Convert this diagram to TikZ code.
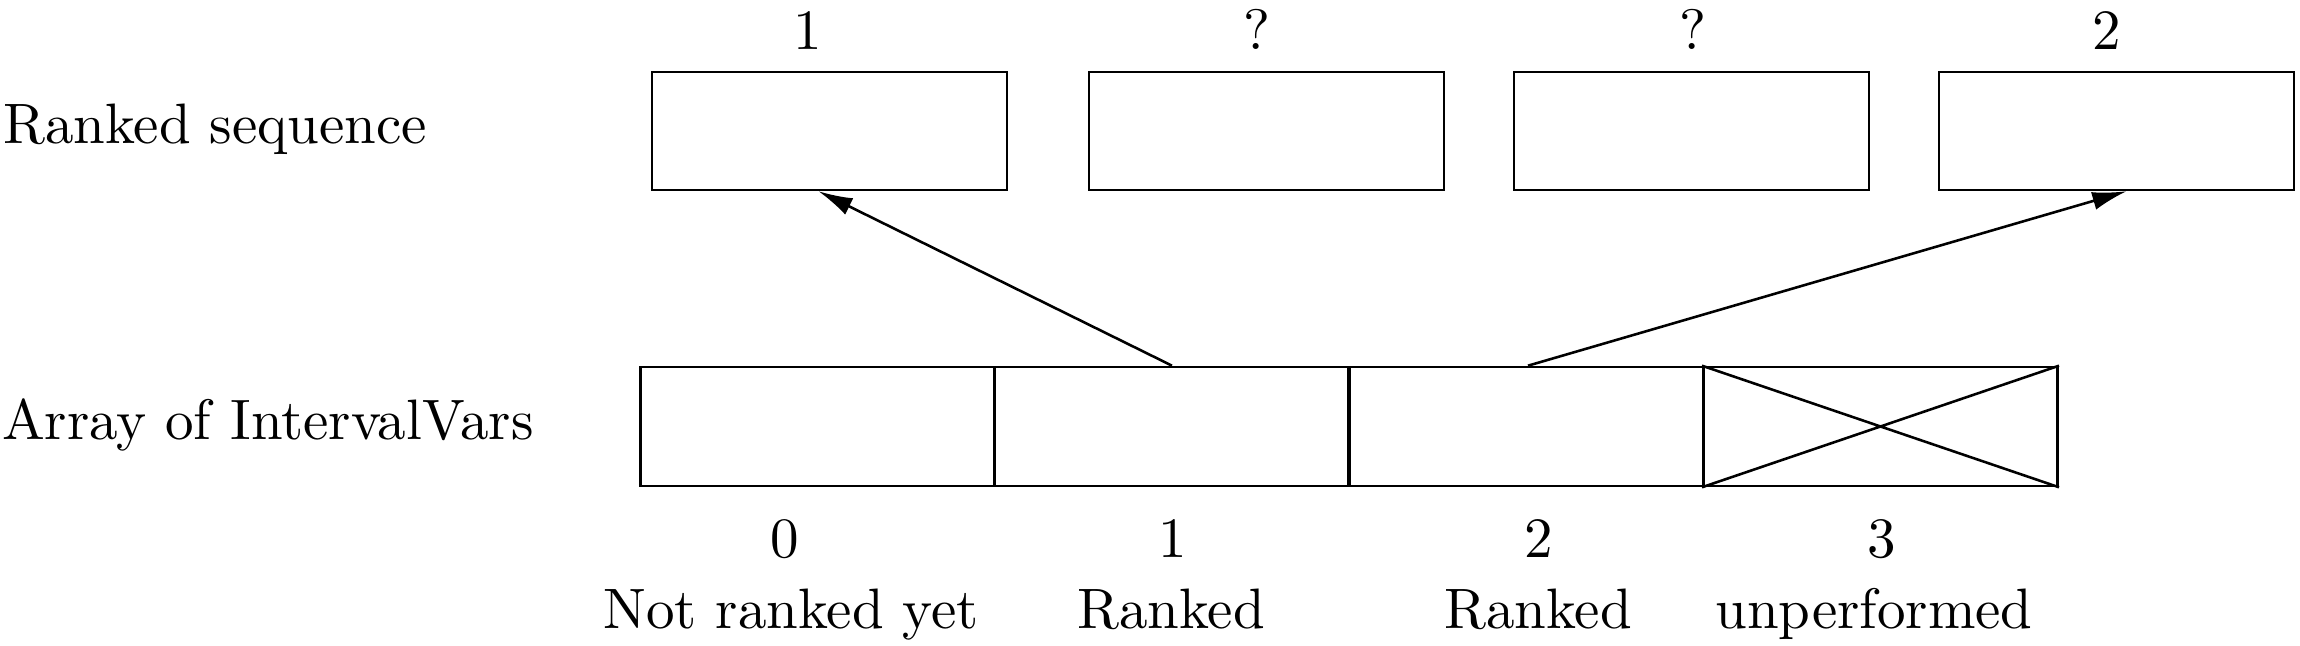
\documentclass[tikz,border=0pt]{standalone}
\usetikzlibrary{arrows.meta,calc}
\begin{document}
\begin{tikzpicture}[x=0.17544pt,y=-0.17544pt,
  topbox/.style={draw,line width=0.45pt,rectangle,inner sep=0pt,minimum width=62.28pt,minimum height=20.7pt},
  arrbox/.style={draw,line width=0.45pt,rectangle,inner sep=0pt,minimum width=62.2pt,minimum height=20.88pt},
  lbl/.style={inner sep=0pt,anchor=base},
  side/.style={inner sep=0pt,anchor=base west},
  conn/.style={line width=0.45pt,-{Latex[length=6pt,width=3.2pt]}}]
\useasboundingbox (0,0) rectangle (2300,646);
% top row
\node[topbox] (t0) at (829.5,131) {};
\node[topbox] (t1) at (1266.5,131) {};
\node[topbox] (t2) at (1691.5,131) {};
\node[topbox] (t3) at (2116.5,131) {};
\node[lbl] (l0) at (808,50) {1};
\node[lbl] (l1) at (1257,50) {?};
\node[lbl] (l2) at (1693,50) {?};
\node[lbl] (l3) at (2107,50) {2};
% bottom row
\node[arrbox] (b0) at (817.5,426.5) {};
\node[arrbox] (b1) at (1172,426.5) {};
\node[arrbox] (b2) at (1526,426.5) {};
\node[arrbox] (b3) at (1880.5,426.5) {};
\draw[line width=0.45pt] (b3.north west) -- (b3.south east) (b3.south west) -- (b3.north east);
% side labels
\node[side] (rs) at (2,144) {Ranked sequence};
\node[side] (ai) at (1,440) {Array of IntervalVars};
% bottom labels
\node[lbl] (n0) at (785,558) {0};
\node[lbl] (n1) at (1173,558) {1};
\node[lbl] (n2) at (1539,558) {2};
\node[lbl] (n3) at (1882,558) {3};
\node[lbl] (s0) at (791,629) {Not ranked yet};
\node[lbl] (s1) at (1171,629) {Ranked};
\node[lbl] (s2) at (1538,629) {Ranked};
\node[lbl] (s3) at (1874,629) {unperformed};
% connectors
\coordinate (a0) at ($(t0.south)+(-11,0)$);
\coordinate (a3) at ($(t3.south)+(10,0)$);
\draw[conn] (b1.north) -- (a0);
\draw[conn] ($(b2.north)+(2,0)$) -- (a3);
\end{tikzpicture}
\end{document}
